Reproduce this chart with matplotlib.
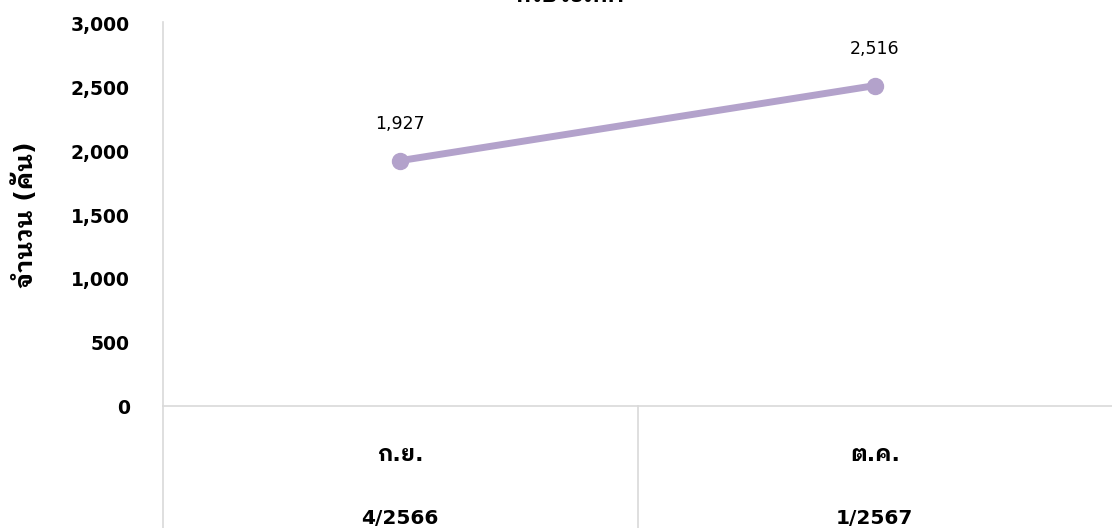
import matplotlib
matplotlib.use("Agg")
import matplotlib.pyplot as plt
from matplotlib.ticker import FuncFormatter
import matplotlib.transforms as mtransforms

plt.rcParams["font.family"] = ["DejaVu Sans", "IBM Plex Sans Thai Looped", "Noto Sans Thai Looped"]

months = ["ก.ย.", "ต.ค."]
quarters = ["4/2566", "1/2567"]
vehicles = [1927, 2516]
yticks = [0, 500, 1000, 1500, 2000, 2500, 3000]

LINE = "#B3A2CB"
GRID = "#D9D9D9"

fig = plt.figure(figsize=(11.12, 5.28), dpi=100)
ax = fig.add_axes([163 / 1112, 122 / 528, 949 / 1112, 382 / 528])

x = list(range(len(vehicles)))
ax.plot(x, vehicles, color=LINE, linewidth=5, solid_capstyle="round", zorder=3)
ax.plot(x, vehicles, "o", color=LINE, markersize=11.5, zorder=4)
for xi, v in zip(x, vehicles):
    ax.annotate(f"{v:,}", (xi, v), xytext=(0, 20), textcoords="offset points",
                ha="center", va="bottom", fontsize=12.5)

ax.set_xlim(-0.5, len(vehicles) - 0.5)
ax.set_ylim(0, 3000)
ax.set_yticks(yticks)
ax.yaxis.set_major_formatter(FuncFormatter(lambda v, p: f"{int(v):,}"))
ax.tick_params(axis="y", length=0, pad=24, labelsize=13.5)
for lab in ax.get_yticklabels():
    lab.set_fontweight("bold")
ax.set_xticks([])

for s in ["top", "right", "left"]:
    ax.spines[s].set_visible(False)
ax.spines["bottom"].set_color(GRID)
ax.spines["bottom"].set_linewidth(1.2)

# two-level category axis: month on top, quarter/year below
trans = mtransforms.blended_transform_factory(ax.transData, ax.transAxes)
low = -122 / 382
ax.plot([-0.5, -0.5], [low, 1.005], transform=trans, color=GRID, linewidth=1.2, clip_on=False)
for i in range(1, len(months)):
    ax.plot([i - 0.5, i - 0.5], [low, 0], transform=trans, color=GRID, linewidth=1.2, clip_on=False)
for i, (m, q) in enumerate(zip(months, quarters)):
    ax.text(i, -49 / 382, m, transform=trans, ha="center", va="center", fontsize=16, fontweight="bold")
    ax.text(i, -112 / 382, q, transform=trans, ha="center", va="center", fontsize=14.5, fontweight="bold")

fig.text(25 / 1112, 0.593, "จำนวน (คัน)", rotation=90, ha="center", va="center",
         fontsize=18, fontweight="bold")
# title sits mostly above the canvas, as in the source image
fig.text(570 / 1112, 1 - 1.5 / 528, "ทั่วประเทศ", ha="center", va="baseline",
         fontsize=16, fontweight="bold")

fig.savefig("out.png", dpi=100)
